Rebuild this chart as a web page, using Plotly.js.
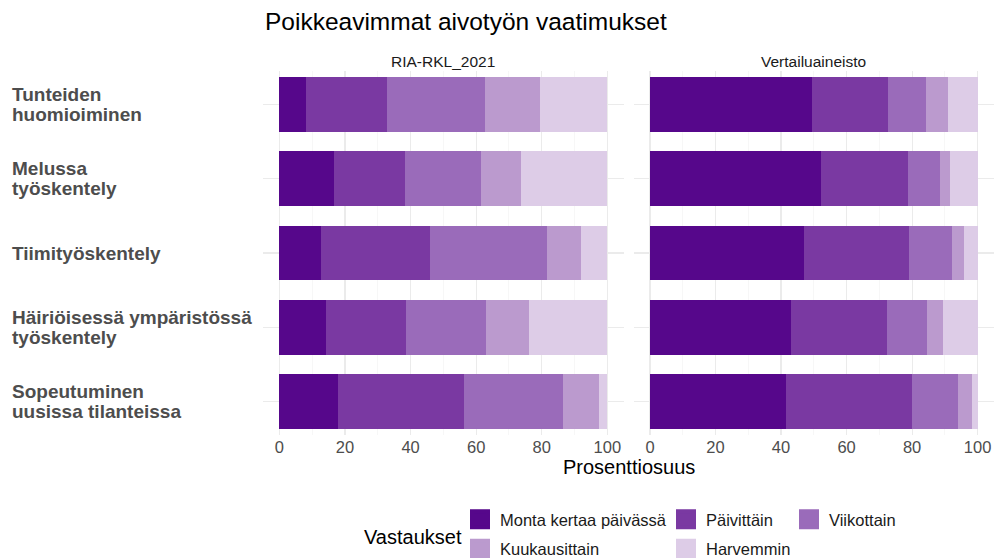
<!DOCTYPE html>
<html>
<head>
<meta charset="utf-8">
<script src="https://cdn.plot.ly/plotly-3.0.1.min.js"></script>
<style>html,body{margin:0;padding:0;background:#fff;}#chart{width:999px;height:558px;}</style>
</head>
<body>
<div id="chart"></div>
<script>
// ---- data ----
const categories = ["Tunteiden huomioiminen", "Melussa työskentely", "Tiimityöskentely", "Häiriöisessä ympäristössä työskentely", "Sopeutuminen uusissa tilanteissa"];
const categoryLabels = [["Tunteiden", "huomioiminen"], ["Melussa", "työskentely"], ["Tiimityöskentely"], ["Häiriöisessä ympäristössä", "työskentely"], ["Sopeutuminen", "uusissa tilanteissa"]];
const panels = ["RIA-RKL_2021", "Vertailuaineisto"];
const responses = ["Monta kertaa päivässä", "Päivittäin", "Viikottain", "Kuukausittain", "Harvemmin"];
const colors = ["#56078B", "#7A39A2", "#9A6BBA", "#BB9ACE", "#DDCCE7"];

// RIA-RKL_2021, one array per response, in category order
const ria_monta = [8.2, 16.7, 12.7, 14.1, 17.8];
const ria_paiv  = [24.6, 21.7, 33.1, 24.5, 38.4];
const ria_viik  = [29.9, 23.1, 35.8, 24.3, 30.2];
const ria_kuuk  = [16.7, 12.2, 10.5, 13.2, 11.2];
const ria_harv  = [20.6, 26.3, 7.9, 23.9, 2.4];

// Vertailuaineisto
const ver_monta = [49.3, 52.2, 46.9, 43.1, 41.5];
const ver_paiv  = [23.2, 26.5, 32.2, 29.2, 38.5];
const ver_viik  = [11.8, 9.8, 13.2, 12.4, 13.9];
const ver_kuuk  = [6.7, 3.1, 3.6, 4.6, 4.3];
const ver_harv  = [9.0, 8.4, 4.1, 10.7, 1.8];

const xTicks = [0, 20, 40, 60, 80, 100];

// ---- build ----
const riaSeries = [ria_monta, ria_paiv, ria_viik, ria_kuuk, ria_harv];
const verSeries = [ver_monta, ver_paiv, ver_viik, ver_kuuk, ver_harv];
const FONT = "Liberation Sans, Arial, sans-serif";

// legend layout: column for each response (ggplot-like 2-row legend)
const legendIds = ["legend", "legend2", "legend3", "legend", "legend2"];

const traces = [];
responses.forEach((r, i) => {
  traces.push({
    type: "bar", orientation: "h", name: r, legendgroup: r,
    x: riaSeries[i], y: categories, xaxis: "x", yaxis: "y",
    marker: {color: colors[i], line: {width: 0}},
    hoverinfo: "x+name", showlegend: false
  });
});
responses.forEach((r, i) => {
  traces.push({
    type: "bar", orientation: "h", name: r, legendgroup: r,
    x: verSeries[i], y: categories, xaxis: "x2", yaxis: "y",
    marker: {color: colors[i], line: {width: 0}},
    hoverinfo: "x+name", showlegend: false
  });
});
// legend keys (no data drawn)
responses.forEach((r, i) => {
  traces.push({
    type: "scatter", mode: "markers", name: r, legendgroup: r, legend: legendIds[i],
    x: [null], y: [null], xaxis: "x", yaxis: "y",
    marker: {symbol: "square", size: 16, color: colors[i], line: {color: colors[i], width: 4}},
    hoverinfo: "skip", showlegend: true
  });
});

const mL = 263, mR = 5, mT = 70.6, mB = 123.3;
const plotW = 999 - mL - mR;
const d1 = [0, (623.7 - mL) / plotW];
const d2 = [(633.6 - mL) / plotW, 1];

const xaxisBase = {
  range: [-5, 105], tickvals: xTicks, ticktext: xTicks.map(String),
  showgrid: true, gridcolor: "#ebebeb", gridwidth: 1.1,
  minor: {dtick: 10, tick0: 0, showgrid: true, gridcolor: "#f2f2f2", gridwidth: 0.6},
  zeroline: false, showline: false, ticks: "", ticklabelstandoff: 0,
  tickfont: {family: FONT, size: 16.5, color: "#4d4d4d"},
  anchor: "y", fixedrange: true
};

const annotations = [];
categories.forEach((c, i) => {
  const lines = categoryLabels[i];
  lines.forEach((ln, j) => {
    annotations.push({
      xref: "paper", yref: "y", x: (10 - mL) / plotW, y: c,
      yshift: -20 * (j - (lines.length - 1) / 2),
      xanchor: "left", yanchor: "middle", align: "left", showarrow: false,
      text: "<b>" + ln + "</b>",
      font: {family: FONT, size: 19, color: "#4d4d4d"}
    });
  });
});
[d1, d2].forEach((d, k) => {
  annotations.push({
    xref: "paper", yref: "paper", x: (d[0] + d[1]) / 2, y: 1, yshift: 10,
    xanchor: "center", yanchor: "middle", showarrow: false,
    text: panels[k], font: {family: FONT, size: 15.5, color: "#1a1a1a"}
  });
});
annotations.push({
  xref: "paper", yref: "paper", x: 0.5, y: 0, yshift: -32,
  xanchor: "center", yanchor: "middle", showarrow: false,
  text: "Prosenttiosuus", font: {family: FONT, size: 20, color: "#000000"}
});
annotations.push({
  xref: "paper", yref: "paper", x: (362 - mL) / plotW, y: -(537 - 434.7) / (434.7 - mT),
  xanchor: "left", yanchor: "middle", showarrow: false,
  text: "Vastaukset", font: {family: FONT, size: 20, color: "#000000"}
});

function legendAt(px) {
  return {
    orientation: "v", xref: "container", yref: "container",
    x: px / 999, xanchor: "left", y: 1 - 502 / 558, yanchor: "top",
    tracegroupgap: 5, traceorder: "grouped",
    font: {family: FONT, size: 16.5, color: "#1a1a1a"},
    bgcolor: "rgba(0,0,0,0)", borderwidth: 0, itemclick: false, itemdoubleclick: false
  };
}

const layout = {
  width: 999, height: 558,
  margin: {l: mL, r: mR, t: mT, b: mB, pad: 0, autoexpand: false},
  paper_bgcolor: "#ffffff", plot_bgcolor: "#ffffff",
  barmode: "stack", bargap: 0.26,
  font: {family: FONT, color: "#1a1a1a"},
  title: {text: "Poikkeavimmat aivotyön vaatimukset", x: 265 / 999, xanchor: "left",
          y: 1 - 21 / 558, yanchor: "middle", yref: "container",
          font: {family: FONT, size: 24.5, color: "#000000"}},
  xaxis: Object.assign({}, xaxisBase, {domain: d1}),
  xaxis2: Object.assign({}, xaxisBase, {domain: d2}),
  yaxis: {
    type: "category", categoryorder: "array", categoryarray: categories,
    range: [4.45, -0.45], showticklabels: false, ticks: "",
    showgrid: true, gridcolor: "#ebebeb", gridwidth: 1.1,
    zeroline: false, showline: false, fixedrange: true
  },
  showlegend: true,
  legend: legendAt(460),
  legend2: legendAt(666),
  legend3: legendAt(789),
  annotations: annotations
};

Plotly.newPlot("chart", traces, layout, {displayModeBar: false, staticPlot: true});
</script>
</body>
</html>
